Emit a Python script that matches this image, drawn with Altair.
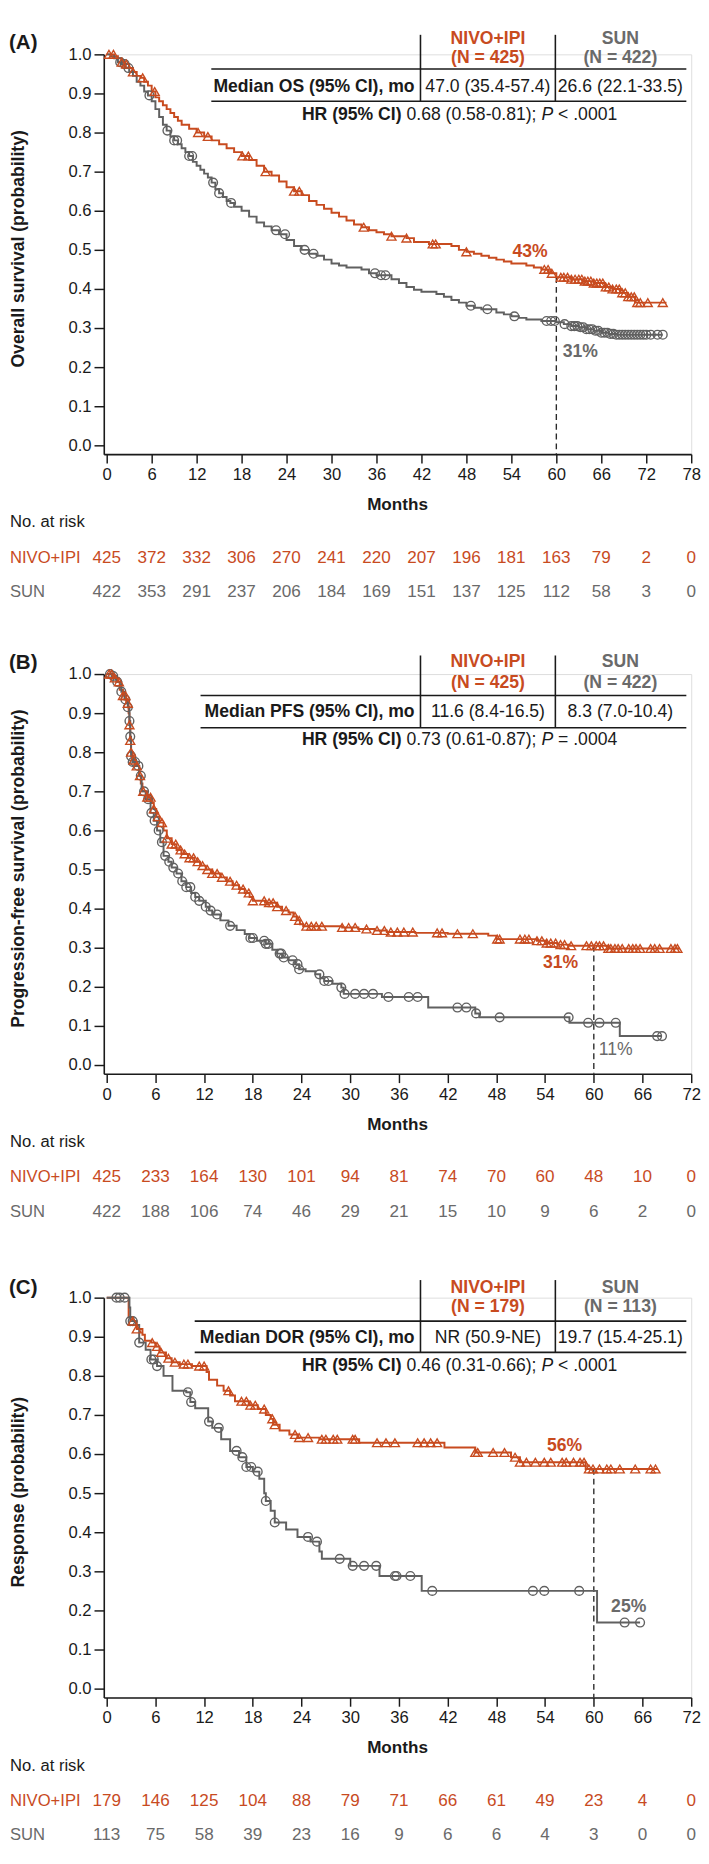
import altair as alt
import pandas as pd
import numpy as np

ORANGE = "#C84B1F"
GRAY = "#606060"
SUN_TXT = "#6A6A6A"
BLACK = "#1A1A1A"
FONT = "Liberation Sans"

W = 601
H = 409
YMIN = -0.0225
LEFT = -97

# ---------------- Panel A : Overall survival ----------------
A_NIVO_T = [0, 1, 1.5, 2, 2.5, 3, 3.5, 4, 4.5, 5, 5.5, 6, 6.5, 7, 7.5, 8, 8.5, 9, 9.5, 10, 11, 12, 13, 14,
            15, 16, 17, 18, 19, 20, 21, 22, 23, 24, 25, 26, 27, 28, 29, 30, 31, 32, 33, 34, 35, 36, 37, 38,
            40, 41, 43, 46, 47, 48, 49, 50, 51, 52, 53, 54, 56, 57, 58, 59, 60, 62, 63.5, 65, 66.5, 67.5,
            68.5, 69.5, 70.5, 74.7]
A_NIVO_S = [1.0, 0.995, 0.99, 0.98, 0.975, 0.965, 0.955, 0.945, 0.94, 0.93, 0.92, 0.905, 0.89, 0.88, 0.87,
            0.86, 0.85, 0.84, 0.83, 0.82, 0.81, 0.80, 0.79, 0.78, 0.77, 0.76, 0.75, 0.74, 0.73, 0.715, 0.70,
            0.69, 0.675, 0.66, 0.65, 0.64, 0.625, 0.615, 0.605, 0.595, 0.585, 0.575, 0.565, 0.558, 0.55,
            0.545, 0.54, 0.535, 0.53, 0.52, 0.515, 0.51, 0.50, 0.495, 0.49, 0.485, 0.48, 0.475, 0.47, 0.465,
            0.46, 0.455, 0.45, 0.44, 0.43, 0.425, 0.42, 0.415, 0.405, 0.40, 0.39, 0.38, 0.365, 0.365]
A_NIVO_CENS = [0.3, 0.9, 2.0, 2.6, 3.5, 4.8, 6.4, 12.2, 13.5, 18.1, 18.9, 21.2, 25.0, 25.7, 34.3, 38.0,
               40.0, 43.5, 43.9, 48.0, 58.4, 58.9, 59.4, 60.6, 61.0, 61.5, 62.0, 62.5, 63.0, 63.4, 63.8, 64.2,
               64.6, 65.0, 65.4, 65.8, 66.2, 66.6, 67.0, 67.5, 68.0, 68.4, 68.8, 69.2, 69.6, 70.0, 70.4,
               70.8, 71.2, 72.2, 74.2]
A_SUN_T = [0, 0.5, 1, 1.5, 2, 2.5, 3, 3.5, 4, 4.5, 5, 5.5, 6, 6.5, 7, 7.5, 8, 8.5, 9, 9.5, 10, 10.5, 11,
           11.5, 12, 12.5, 13, 13.5, 14, 14.5, 15, 15.5, 16, 16.5, 17, 18, 19, 20, 21, 22, 23, 24, 25, 26,
           27, 28, 29, 30, 31, 32, 34, 35, 36, 38, 39, 40, 41, 42, 44, 45, 46, 47, 48, 49, 50, 52, 53, 54,
           55, 56, 58, 60, 61, 62, 63, 64, 65, 66, 67, 68, 74.2]
A_SUN_S = [1.0, 0.995, 0.99, 0.98, 0.975, 0.965, 0.955, 0.945, 0.93, 0.92, 0.905, 0.895, 0.88, 0.86,
           0.84, 0.82, 0.805, 0.79, 0.78, 0.77, 0.76, 0.75, 0.74, 0.725, 0.715, 0.705, 0.695, 0.685, 0.672,
           0.655, 0.645, 0.635, 0.625, 0.62, 0.61, 0.60, 0.585, 0.57, 0.56, 0.55, 0.54, 0.525, 0.51, 0.50,
           0.49, 0.485, 0.475, 0.465, 0.46, 0.455, 0.45, 0.44, 0.435, 0.425, 0.415, 0.405, 0.398, 0.393,
           0.387, 0.38, 0.372, 0.365, 0.357, 0.352, 0.348, 0.34, 0.335, 0.33, 0.326, 0.322, 0.318, 0.315,
           0.31, 0.305, 0.302, 0.297, 0.293, 0.288, 0.285, 0.283, 0.283]
A_SUN_CENS = [1.8, 2.4, 2.9, 5.7, 8.1, 9.0, 9.4, 11.0, 11.4, 14.2, 15.0, 16.6, 22.6, 23.8, 26.4, 27.6,
              35.8, 36.6, 37.2, 48.6, 50.8, 54.4, 58.7, 59.3, 59.8, 61.1, 62.0, 62.4, 62.8, 63.2, 63.6,
              64.0, 64.4, 64.8, 65.2, 65.6, 66.0, 66.4, 66.8, 67.2, 67.6, 68.0, 68.4, 68.8, 69.2, 69.6,
              70.0, 70.4, 70.8, 71.2, 71.6, 72.0, 72.6, 73.5, 74.2]
A_RISK_MONTHS = [0, 6, 12, 18, 24, 30, 36, 42, 48, 54, 60, 66, 72, 78]
A_RISK_NIVO = [425, 372, 332, 306, 270, 241, 220, 207, 196, 181, 163, 79, 2, 0]
A_RISK_SUN = [422, 353, 291, 237, 206, 184, 169, 151, 137, 125, 112, 58, 3, 0]

# ---------------- Panel B : Progression-free survival ----------------
B_NIVO_T = [0, 0.8, 1.2, 1.6, 2.0, 2.4, 2.7, 2.8, 2.9, 3.0, 3.2, 3.6, 4.0, 4.2, 4.4, 5.0, 5.5, 5.8, 6.1,
            6.5, 7.0, 7.4, 8.0, 8.6, 9.2, 10.0, 10.8, 11.5, 12.2, 13.0, 14.0, 14.8, 15.5, 16.3, 17.0, 17.6,
            18.0, 19.5, 21.0, 21.6, 22.4, 23.0, 23.4, 23.8, 24.2, 29.0, 31.0, 33.0, 34.5, 38.0, 42.0, 47.0,
            48.0, 53.0, 54.2, 55.5, 57.0, 61.8, 70.6]
B_NIVO_S = [1.0, 0.99, 0.98, 0.96, 0.945, 0.925, 0.90, 0.87, 0.83, 0.80, 0.78, 0.765, 0.74, 0.72, 0.70,
            0.685, 0.67, 0.655, 0.635, 0.62, 0.60, 0.58, 0.565, 0.55, 0.54, 0.53, 0.52, 0.51, 0.50, 0.49,
            0.48, 0.47, 0.46, 0.45, 0.44, 0.43, 0.42, 0.415, 0.405, 0.395, 0.39, 0.38, 0.37, 0.36, 0.355,
            0.352, 0.348, 0.344, 0.34, 0.338, 0.336, 0.331, 0.322, 0.318, 0.312, 0.308, 0.305, 0.298, 0.298]
B_NIVO_CENS = [0.3, 0.6, 1.0, 1.5, 2.0, 2.3, 2.6, 2.8, 2.9, 3.0, 3.3, 3.7, 4.1, 4.5, 5.0, 5.4, 5.8, 6.3,
               6.8, 7.4, 8.0, 8.5, 9.1, 9.6, 10.2, 10.7, 11.2, 11.8, 12.4, 13.0, 13.6, 14.2, 15.2, 16.0, 16.8,
               17.5, 18.0, 19.4, 20.0, 20.5, 21.0, 22.1, 23.2, 23.7, 24.6, 25.2, 25.8, 26.5, 29.0, 29.8,
               30.6, 32.0, 33.3, 34.2, 35.0, 35.8, 36.6, 37.7, 40.7, 41.3, 43.2, 45.1, 48.1, 48.4, 50.9,
               51.5, 52.0, 53.0, 53.6, 54.2, 54.7, 55.3, 55.9, 56.4, 57.2, 59.1, 59.7, 60.3, 60.7, 61.2,
               61.8, 62.1, 62.6, 63.0, 63.5, 64.3, 64.8, 65.2, 65.7, 67.0, 67.5, 68.1, 69.5, 70.0, 70.3]
B_SUN_T = [0, 0.6, 1.2, 1.8, 2.2, 2.6, 2.8, 2.9, 3.0, 3.2, 3.8, 4.0, 4.3, 4.8, 5.4, 5.8, 6.2, 6.6, 7.0, 7.6,
           8.0, 8.6, 9.2, 9.8, 10.4, 10.9, 11.4, 12.2, 12.6, 13.0, 14.0, 15.0, 16.0, 17.0, 17.6, 18.5,
           19.6, 20.4, 21.0, 21.6, 22.4, 23.2, 23.7, 24.5, 25.7, 26.3, 26.8, 27.8, 28.9, 29.2, 33.9, 39.6,
           45.4, 45.9, 57.0, 63.2, 68.4]
B_SUN_S = [1.0, 0.995, 0.98, 0.955, 0.935, 0.915, 0.88, 0.84, 0.79, 0.775, 0.765, 0.74, 0.70, 0.68,
           0.645, 0.625, 0.60, 0.57, 0.535, 0.52, 0.505, 0.49, 0.47, 0.455, 0.44, 0.43, 0.42, 0.405, 0.395,
           0.385, 0.37, 0.356, 0.345, 0.335, 0.325, 0.318, 0.31, 0.295, 0.285, 0.275, 0.268, 0.258, 0.245,
           0.24, 0.232, 0.222, 0.215, 0.208, 0.198, 0.182, 0.174, 0.147, 0.132, 0.122, 0.108, 0.074, 0.074]
B_SUN_CENS = [0.4, 0.8, 1.3, 1.8, 2.3, 2.6, 2.8, 2.9, 3.0, 3.2, 3.5, 3.9, 4.2, 4.6, 5.1, 5.5, 5.9, 6.4,
              6.8, 7.2, 7.7, 8.2, 8.8, 9.3, 9.8, 10.3, 10.9, 11.4, 12.2, 12.8, 13.6, 15.2, 17.7, 18.0, 19.4,
              19.6, 19.9, 21.3, 21.5, 21.8, 22.9, 23.5, 23.7, 26.2, 26.8, 27.3, 28.9, 29.3, 30.6, 31.7,
              32.8, 34.7, 37.2, 38.3, 43.2, 44.3, 45.5, 48.4, 56.9, 59.3, 60.7, 62.7, 67.8, 68.4]
B_RISK_MONTHS = [0, 6, 12, 18, 24, 30, 36, 42, 48, 54, 60, 66, 72]
B_RISK_NIVO = [425, 233, 164, 130, 101, 94, 81, 74, 70, 60, 48, 10, 0]
B_RISK_SUN = [422, 188, 106, 74, 46, 29, 21, 15, 10, 9, 6, 2, 0]

# ---------------- Panel C : Duration of response ----------------
C_NIVO_T = [0, 2.7, 3.2, 3.7, 4.4, 4.7, 5.5, 6.0, 6.5, 7.3, 8.0, 9.0, 10.5, 12.3, 12.6, 13.6, 14.4, 15.2,
            15.8, 17.5, 18.6, 19.6, 20.2, 20.5, 21.3, 22.5, 23.5, 26.2, 31.1, 41.6, 45.4, 49.8, 50.9, 59.0,
            67.9]
C_NIVO_S = [1.0, 0.95, 0.94, 0.92, 0.905, 0.89, 0.885, 0.875, 0.86, 0.845, 0.835, 0.83, 0.825, 0.81,
            0.79, 0.775, 0.762, 0.75, 0.735, 0.725, 0.715, 0.70, 0.69, 0.675, 0.66, 0.65, 0.642, 0.638,
            0.629, 0.617, 0.604, 0.592, 0.579, 0.562, 0.562]
C_NIVO_CENS = [3.2, 3.7, 5.6, 6.2, 6.7, 7.6, 8.4, 9.5, 10.0, 11.4, 12.0, 15.0, 16.6, 17.2, 17.7, 18.3,
               19.4, 20.4, 20.7, 23.2, 23.7, 24.8, 26.5, 27.0, 27.9, 28.4, 30.3, 30.6, 33.3, 34.4, 35.5,
               38.3, 39.1, 39.9, 40.7, 45.4, 45.7, 47.6, 49.0, 50.3, 50.9, 51.7, 52.8, 53.9, 54.7, 56.1,
               56.6, 57.5, 58.3, 58.8, 59.4, 59.9, 60.7, 61.6, 62.1, 63.2, 65.1, 67.0, 67.6]
C_SUN_T = [0, 2.8, 2.9, 3.6, 4.0, 4.8, 5.4, 6.2, 7.0, 8.1, 9.8, 10.3, 10.9, 12.5, 13.0, 14.1, 15.2, 16.3,
           17.2, 18.0, 18.8, 19.4, 19.6, 20.2, 20.7, 22.1, 23.5, 25.1, 26.2, 26.5, 30.0, 33.6, 38.8, 60.4,
           65.7]
C_SUN_S = [1.0, 0.975, 0.94, 0.93, 0.885, 0.867, 0.842, 0.825, 0.80, 0.762, 0.758, 0.733, 0.717, 0.683,
           0.667, 0.638, 0.608, 0.592, 0.567, 0.555, 0.537, 0.50, 0.48, 0.455, 0.425, 0.407, 0.388, 0.376,
           0.351, 0.332, 0.314, 0.288, 0.25, 0.169, 0.169]
C_SUN_CENS = [1.2, 1.6, 2.2, 2.9, 3.2, 4.0, 5.5, 5.8, 6.2, 10.0, 10.4, 12.6, 13.8, 16.0, 16.7, 17.2, 17.8,
              18.6, 19.6, 20.7, 24.8, 25.9, 28.7, 30.3, 31.7, 33.2, 35.5, 35.7, 37.4, 40.1, 52.5, 53.9,
              58.2, 63.8, 65.7]
C_RISK_MONTHS = [0, 6, 12, 18, 24, 30, 36, 42, 48, 54, 60, 66, 72]
C_RISK_NIVO = [179, 146, 125, 104, 88, 79, 71, 66, 61, 49, 23, 4, 0]
C_RISK_SUN = [113, 75, 58, 39, 23, 16, 9, 6, 6, 4, 3, 0, 0]

# ---------------- text metrics (Arial-compatible widths) ----------------
REG = {" ": 278, "(": 333, ")": 333, ".": 278, "-": 333, ";": 278, "<": 584, "=": 584}
BOLD = {"H": 722, "R": 722, " ": 278, "(": 333, ")": 333, "%": 889, "C": 722, "I": 278}


def tw(s, table, size):
    return sum(table.get(c, 556) for c in s) / 1000.0 * size


ONE = pd.DataFrame({"k": [0]})


def txt(text, x, y, size=18, weight="normal", color=BLACK, align="center", style="normal", angle=0):
    return alt.Chart(ONE).mark_text(
        text=text, fontSize=size, fontWeight=weight, color=color, align=align,
        baseline="middle", font=FONT, fontStyle=style, angle=angle
    ).encode(x=alt.value(x), y=alt.value(y))


def rule(x1, x2, y1, y2, width=1.6, color=BLACK):
    return alt.Chart(ONE).mark_rule(color=color, strokeWidth=width).encode(
        x=alt.value(x1), x2=alt.value(x2), y=alt.value(y1), y2=alt.value(y2))


def surv_at(T, S, times):
    idx = np.searchsorted(np.array(T), np.array(times), side="right") - 1
    return list(np.array(S)[idx])


def panel(cfg):
    xs = alt.Scale(domain=[cfg["xmin"], cfg["xmax"]], nice=False, zero=False)
    ys = alt.Scale(domain=[YMIN, 1.0], nice=False, zero=False)
    xaxis = alt.Axis(values=cfg["ticks"], title=None, grid=False, tickSize=9, labelPadding=4,
                     labelFontSize=17, labelColor=BLACK, domainColor=BLACK, tickColor=BLACK,
                     domainWidth=1.6, tickWidth=1.5, labelFlush=False, labelFont=FONT)
    yaxis = alt.Axis(values=[i / 10 for i in range(11)], format=".1f", title=None, grid=False,
                     tickSize=10, labelPadding=3, labelFontSize=17, labelColor=BLACK,
                     domainColor=BLACK, tickColor=BLACK, domainWidth=1.6, tickWidth=1.5, labelFont=FONT)

    nivo = pd.DataFrame({"t": cfg["nT"], "s": cfg["nS"], "g": "NIVO+IPI"})
    sun = pd.DataFrame({"t": cfg["sT"], "s": cfg["sS"], "g": "SUN"})
    lines = pd.concat([nivo, sun])

    layers = []
    ref = pd.DataFrame({"t": [60], "s": [cfg["ref"]], "s2": [YMIN]})
    layers.append(alt.Chart(ref).mark_rule(strokeDash=[6, 4], strokeWidth=1.4, color="#2a2a2a").encode(
        x=alt.X("t:Q", scale=xs, axis=xaxis), y=alt.Y("s:Q", scale=ys, axis=yaxis), y2="s2:Q"))
    layers.append(alt.Chart(lines).mark_line(interpolate="step-after", strokeWidth=2).encode(
        x=alt.X("t:Q", scale=xs), y=alt.Y("s:Q", scale=ys),
        color=alt.Color("g:N", scale=alt.Scale(domain=["NIVO+IPI", "SUN"], range=[ORANGE, GRAY]),
                        legend=None)))
    cn = pd.DataFrame({"t": cfg["nC"], "s": surv_at(cfg["nT"], cfg["nS"], cfg["nC"])})
    cs = pd.DataFrame({"t": cfg["sC"], "s": surv_at(cfg["sT"], cfg["sS"], cfg["sC"])})
    layers.append(alt.Chart(cs).mark_point(shape="circle", filled=False, size=80, strokeWidth=1.4,
                                           color=GRAY, opacity=1).encode(
        x=alt.X("t:Q", scale=xs), y=alt.Y("s:Q", scale=ys)))
    layers.append(alt.Chart(cn).mark_point(shape="triangle-up", filled=False, size=85, strokeWidth=1.4,
                                           color=ORANGE, opacity=1).encode(
        x=alt.X("t:Q", scale=xs), y=alt.Y("s:Q", scale=ys)))
    for (t, s, lab, col, wt) in cfg["pct"]:
        d = pd.DataFrame({"t": [t], "s": [s], "lab": [lab]})
        layers.append(alt.Chart(d).mark_text(fontSize=18, fontWeight=wt, color=col, font=FONT).encode(
            x=alt.X("t:Q", scale=xs), y=alt.Y("s:Q", scale=ys), text="lab:N"))

    # summary table
    o = cfg["off"]
    c1, c2 = 393, 528.5
    layers.append(rule(324, 324, o["vtop"], o["hl2"]))
    layers.append(rule(462, 462, o["vtop"], o["hl2"]))
    layers.append(rule(o["hx0"], 596, o["hl1"], o["hl1"]))
    layers.append(rule(o["hx0"], 596, o["hl2"], o["hl2"]))
    layers.append(txt("NIVO+IPI", c1, o["h1"], weight="bold", color=ORANGE))
    layers.append(txt(cfg["n1"], c1, o["h2"], weight="bold", color=ORANGE))
    layers.append(txt("SUN", c2, o["h1"], weight="bold", color=SUN_TXT))
    layers.append(txt(cfg["n2"], c2, o["h2"], weight="bold", color=SUN_TXT))
    layers.append(txt(cfg["rowlab"], 318, o["row"], weight="bold", align="right"))
    layers.append(txt(cfg["v1"], c1, o["row"]))
    layers.append(txt(cfg["v2"], c2, o["row"]))
    p1, p2, p4 = "HR (95% CI)", cfg["hr"], cfg["op"] + " " + cfg["pv"]
    sp = tw(" ", REG, 18)
    w1, w2, wp, w4 = tw(p1, BOLD, 18), tw(p2, REG, 18), 0.667 * 18, tw(p4, REG, 18)
    x0 = 364 - (w1 + sp + w2 + sp + wp + sp + w4) / 2
    layers.append(txt(p1, x0, o["hr"], weight="bold", align="left"))
    layers.append(txt(p2, x0 + w1 + sp, o["hr"], align="left"))
    layers.append(txt("P", x0 + w1 + sp + w2 + sp, o["hr"], align="left", style="italic"))
    layers.append(txt(p4, x0 + w1 + sp + w2 + sp + wp + sp, o["hr"], align="left"))

    # panel letter and axis titles
    layers.append(txt(cfg["letter"], LEFT, o["let"], size=21, weight="bold", align="left"))
    layers.append(txt(cfg["ytitle"], -87, 199, size=18, weight="bold", angle=270))
    layers.append(txt("Months", W / 2, H + 52, size=17.5, weight="bold"))

    # numbers at risk
    layers.append(txt("No. at risk", LEFT + 1, H + 70, size=17, align="left"))
    layers.append(txt("NIVO+IPI", LEFT + 1, H + 106, size=17, align="left", color=ORANGE))
    layers.append(txt("SUN", LEFT + 1, H + 141, size=17, align="left", color=SUN_TXT))
    rn = pd.DataFrame({"t": cfg["rm"], "n": cfg["rn"]})
    rs = pd.DataFrame({"t": cfg["rm"], "n": cfg["rs"]})
    layers.append(alt.Chart(rn).mark_text(fontSize=17.5, color=ORANGE, font=FONT, baseline="middle").encode(
        x=alt.X("t:Q", scale=xs), y=alt.value(H + 106), text="n:Q"))
    layers.append(alt.Chart(rs).mark_text(fontSize=17.5, color=SUN_TXT, font=FONT, baseline="middle").encode(
        x=alt.X("t:Q", scale=xs), y=alt.value(H + 141), text="n:Q"))

    return alt.layer(*layers).properties(width=W, height=H)


pA = panel(dict(
    xmin=-0.39, xmax=78, ticks=A_RISK_MONTHS, nT=A_NIVO_T, nS=A_NIVO_S, nC=A_NIVO_CENS,
    sT=A_SUN_T, sS=A_SUN_S, sC=A_SUN_CENS, ref=0.43,
    pct=[(56.5, 0.495, "43%", ORANGE, "bold"), (63.2, 0.2375, "31%", SUN_TXT, "bold")],
    off=dict(vtop=-20, h1=-16, h2=4, hl1=15, row=33, hl2=48, hr=62, hx0=110, let=-12),
    n1="(N = 425)", n2="(N = 422)", rowlab="Median OS (95% CI), mo",
    v1="47.0 (35.4-57.4)", v2="26.6 (22.1-33.5)", hr="0.68 (0.58-0.81);", op="<", pv=".0001",
    letter="(A)", ytitle="Overall survival (probability)",
    rm=A_RISK_MONTHS, rn=A_RISK_NIVO, rs=A_RISK_SUN))

pB = panel(dict(
    xmin=-0.36, xmax=72, ticks=B_RISK_MONTHS, nT=B_NIVO_T, nS=B_NIVO_S, nC=B_NIVO_CENS,
    sT=B_SUN_T, sS=B_SUN_S, sC=B_SUN_CENS, ref=0.305,
    pct=[(55.9, 0.26, "31%", ORANGE, "bold"), (62.7, 0.0375, "11%", SUN_TXT, "normal")],
    off=dict(vtop=-19, h1=-12, h2=9, hl1=22, row=39, hl2=55, hr=68, hx0=99, let=-11),
    n1="(N = 425)", n2="(N = 422)", rowlab="Median PFS (95% CI), mo",
    v1="11.6 (8.4-16.5)", v2="8.3 (7.0-10.4)", hr="0.73 (0.61-0.87);", op="=", pv=".0004",
    letter="(B)", ytitle="Progression-free survival (probability)",
    rm=B_RISK_MONTHS, rn=B_RISK_NIVO, rs=B_RISK_SUN))

pC = panel(dict(
    xmin=-0.36, xmax=72, ticks=C_RISK_MONTHS, nT=C_NIVO_T, nS=C_NIVO_S, nC=C_NIVO_CENS,
    sT=C_SUN_T, sS=C_SUN_S, sC=C_SUN_CENS, ref=0.562,
    pct=[(56.4, 0.62, "56%", ORANGE, "bold"), (64.3, 0.2075, "25%", SUN_TXT, "bold")],
    off=dict(vtop=-18, h1=-10, h2=10, hl1=24, row=41, hl2=56, hr=70, hx0=93, let=-10),
    n1="(N = 179)", n2="(N = 113)", rowlab="Median DOR (95% CI), mo",
    v1="NR (50.9-NE)", v2="19.7 (15.4-25.1)", hr="0.46 (0.31-0.66);", op="<", pv=".0001",
    letter="(C)", ytitle="Response (probability)",
    rm=C_RISK_MONTHS, rn=C_RISK_NIVO, rs=C_RISK_SUN))

chart = alt.vconcat(pA, alt.vconcat(pB, pC, spacing=57), spacing=52, padding=0).configure_view(
    stroke=None).configure(font=FONT)

chart.save("out.html", embed_options={"renderer": "svg", "actions": False})
